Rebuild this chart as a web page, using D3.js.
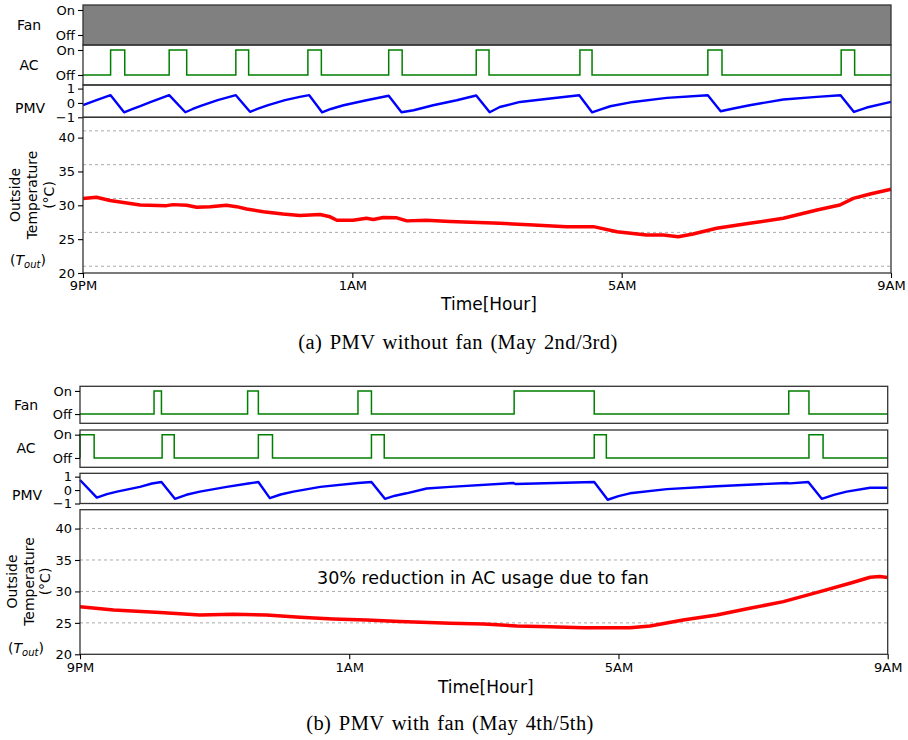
<!DOCTYPE html>
<html>
<head>
<meta charset="utf-8">
<script src="https://cdn.jsdelivr.net/npm/d3@7"></script>
<style>
  body { margin: 0; background: #fff; }
  svg text { font-family: "DejaVu Sans", sans-serif; fill: #000; }
  svg text.caption { font-family: "Liberation Serif", "DejaVu Serif", serif; }
</style>
</head>
<body>
<svg id="chart" width="908" height="740"></svg>
<script>
// ---- shared axis values ----
const hourTicks = [0, 4, 8, 12];
const hourTickLabels = ["9PM", "1AM", "5AM", "9AM"];
const stateTicks = [0, 1];
const stateTickLabels = ["Off", "On"];
const pmvTicks = [-1, 0, 1];
const pmvTickLabels = ["\u22121", "0", "1"];
const tempTicks = [20, 25, 30, 35, 40];
const tempGridA = [21, 26, 31, 36, 41];
const tempGridB = [25, 30, 35, 40];

// ---- (a) May 2nd/3rd, no fan ----
const fanOnA = [0];
const fanOffA = [12];
const acOnA  = [0.41, 1.28, 2.27, 3.34, 4.54, 5.84, 7.38, 9.28, 11.26];
const acOffA = [0.62, 1.54, 2.46, 3.54, 4.74, 6.03, 7.56, 9.49, 11.46];
const pmvHoursA = [0.00, 0.20, 0.41, 0.61, 0.72, 0.85, 1.00, 1.28, 1.52, 1.63, 1.75, 2.00, 2.27, 2.48, 2.60, 2.75, 3.00, 3.22, 3.36,
  3.55, 3.68, 3.87, 4.21, 4.54, 4.73, 4.91, 5.20, 5.55, 5.84, 6.04, 6.19, 6.49, 6.94, 7.37, 7.56, 7.68, 7.83, 8.17,
  8.67, 9.28, 9.47, 9.66, 9.90, 10.40, 10.90, 11.25, 11.45, 11.64, 12.00];
const pmvValuesA = [-0.16, 0.19, 0.54, -0.65, -0.45, -0.22, 0.05, 0.54, -0.65, -0.42, -0.20, 0.20, 0.54, -0.62, -0.40, -0.15, 0.20, 0.42, 0.54,
  -0.65, -0.42, -0.16, 0.19, 0.50, -0.65, -0.51, -0.16, 0.19, 0.52, -0.65, -0.28, 0.07, 0.31, 0.54, -0.65, -0.46, -0.23, 0.07,
  0.35, 0.54, -0.58, -0.39, -0.16, 0.24, 0.42, 0.54, -0.63, -0.32, 0.07];
const tempHoursA = [0.00, 0.20, 0.40, 0.60, 0.85, 1.24, 1.34, 1.54, 1.69, 1.89, 2.13, 2.28, 2.43, 2.68, 2.97, 3.22,
  3.52, 3.67, 3.77, 4.01, 4.21, 4.31, 4.46, 4.66, 4.81, 5.10, 5.45, 6.19, 6.69, 7.18, 7.58, 7.93, 8.37, 8.62,
  8.84, 9.06, 9.41, 9.90, 10.40, 10.90, 11.24, 11.44, 11.69, 12.00];
const tempValuesA = [31.0, 31.2, 30.7, 30.4, 30.05, 29.95, 30.1, 30.0, 29.7, 29.8, 30.0, 29.8, 29.45, 29.05, 28.7, 28.5,
  28.65, 28.3, 27.8, 27.8, 28.1, 27.9, 28.2, 28.15, 27.7, 27.8, 27.6, 27.34, 27.1, 26.85, 26.85, 26.1, 25.6, 25.6,
  25.36, 25.76, 26.6, 27.34, 28.08, 29.3, 30.05, 31.03, 31.67, 32.36];

// ---- (b) May 4th/5th, with fan ----
const fanOnB  = [1.10, 2.49, 4.13, 6.45, 10.53];
const fanOffB = [1.21, 2.65, 4.33, 7.64, 10.83];
const acOnB  = [0.00, 1.22, 2.65, 4.33, 7.64, 10.83];
const acOffB = [0.21, 1.40, 2.86, 4.52, 7.82, 11.04];
const pmvHoursB = [0.00, 0.25, 0.40, 0.55, 0.89, 1.07, 1.21, 1.41, 1.58, 1.78, 2.18, 2.50, 2.65, 2.82, 2.98, 3.17, 3.57, 4.13, 4.33,
  4.53, 4.68, 4.85, 5.15, 5.50, 6.44, 6.47, 7.64, 7.84, 8.00, 8.17, 8.72, 9.46, 10.50, 10.55, 10.82, 11.02, 11.20, 11.39, 11.74, 12.00];
const pmvValuesB = [0.75, -0.56, -0.30, -0.12, 0.24, 0.49, 0.60, -0.65, -0.35, -0.12, 0.24, 0.49, 0.60, -0.60, -0.33, -0.12, 0.24, 0.53, 0.60,
  -0.65, -0.42, -0.24, 0.12, 0.24, 0.53, 0.45, 0.60, -0.72, -0.45, -0.24, 0.07, 0.29, 0.53, 0.50, 0.60, -0.65, -0.36, -0.12, 0.17, 0.17];
const tempHoursB = [0.00, 0.50, 1.19, 1.78, 2.28, 2.77, 3.27, 3.76, 4.26, 4.75, 5.50, 6.00, 6.49, 6.98, 7.48, 8.17,
  8.47, 8.96, 9.46, 9.95, 10.45, 10.94, 11.44, 11.74, 11.88, 12.00];
const tempValuesB = [27.58, 27.05, 26.63, 26.26, 26.37, 26.26, 25.9, 25.63, 25.47, 25.2, 24.93, 24.83, 24.5, 24.4, 24.24, 24.24,
  24.5, 25.47, 26.26, 27.32, 28.38, 29.81, 31.3, 32.26, 32.36, 32.2];

const svg = d3.select("#chart");

// on/off intervals -> step points
function stepPoints(on, off) {
  const pts = [[0, 0]];
  on.forEach((t, i) => { pts.push([t, 1]); pts.push([off[i], 0]); });
  pts.push([12, 0]);
  return pts;
}

function frame(g, x, y0, y1) {
  g.append("rect")
    .attr("x", x.range()[0]).attr("y", y0)
    .attr("width", x.range()[1] - x.range()[0]).attr("height", y1 - y0)
    .attr("fill", "none").attr("stroke", "#333").attr("stroke-width", 1.3);
}

function yAxis(g, x, y, ticks, labels) {
  const ax = d3.axisLeft(y).tickValues(ticks).tickFormat((d, i) => labels[i]).tickSize(5).tickPadding(3);
  const a = g.append("g").attr("transform", `translate(${x.range()[0]},0)`).call(ax);
  a.select(".domain").remove();
  a.selectAll("line").attr("stroke", "#000").attr("stroke-width", 1.1);
  a.selectAll("text").attr("font-size", 13).attr("font-family", "DejaVu Sans");
}

function drawPanel(p) {
  const g = svg.append("g");
  const x = d3.scaleLinear().domain([0, 12]).range([p.left, p.right]);

  // --- Fan state ---
  const yFan = d3.scaleLinear().domain([-0.4, 1.2]).range([p.fan[1], p.fan[0]]);
  if (p.fanFill) {
    const area = d3.area().x(d => x(d[0])).y0(yFan(-0.4)).y1(yFan(1.2));
    p.fanOn.forEach((t, i) => {
      g.append("path").datum([[t], [p.fanOff[i]]]).attr("d", area).attr("fill", "#808080");
    });
  } else {
    g.append("path").datum(stepPoints(p.fanOn, p.fanOff))
      .attr("d", d3.line().x(d => x(d[0])).y(d => yFan(d[1])).curve(d3.curveStepAfter))
      .attr("fill", "none").attr("stroke", "#008000").attr("stroke-width", 1.5);
  }
  frame(g, x, p.fan[0], p.fan[1]);
  yAxis(g, x, yFan, stateTicks, stateTickLabels);

  // --- AC state ---
  const yAc = d3.scaleLinear().domain([-0.4, 1.2]).range([p.ac[1], p.ac[0]]);
  g.append("path").datum(stepPoints(p.acOn, p.acOff))
    .attr("d", d3.line().x(d => x(d[0])).y(d => yAc(d[1])).curve(d3.curveStepAfter))
    .attr("fill", "none").attr("stroke", "#008000").attr("stroke-width", 1.5);
  frame(g, x, p.ac[0], p.ac[1]);
  yAxis(g, x, yAc, stateTicks, stateTickLabels);

  // --- PMV ---
  const yPmv = d3.scaleLinear().domain([-1, 1.25]).range([p.pmv[1], p.pmv[0]]);
  g.append("path").datum(p.pmvHours.map((h, i) => [h, p.pmvValues[i]]))
    .attr("d", d3.line().x(d => x(d[0])).y(d => yPmv(d[1])))
    .attr("fill", "none").attr("stroke", "#0000ff").attr("stroke-width", 2.4)
    .attr("stroke-linejoin", "round");
  frame(g, x, p.pmv[0], p.pmv[1]);
  yAxis(g, x, yPmv, pmvTicks, pmvTickLabels);

  // --- Outside temperature ---
  const yT = d3.scaleLinear().domain([20, 43]).range([p.temp[1], p.temp[0]]);
  g.append("g").selectAll("line").data(p.grid).join("line")
    .attr("x1", x(0)).attr("x2", x(12)).attr("y1", d => yT(d)).attr("y2", d => yT(d))
    .attr("stroke", "#aaa").attr("stroke-width", 1).attr("stroke-dasharray", "3,3");
  g.append("path").datum(p.tempHours.map((h, i) => [h, p.tempValues[i]]))
    .attr("d", d3.line().x(d => x(d[0])).y(d => yT(d[1])))
    .attr("fill", "none").attr("stroke", "#ff0000").attr("stroke-width", 3.5)
    .attr("stroke-linejoin", "round");
  frame(g, x, p.temp[0], p.temp[1]);
  yAxis(g, x, yT, tempTicks, tempTicks.map(String));

  const xa = g.append("g").attr("transform", `translate(0,${p.temp[1]})`)
    .call(d3.axisBottom(x).tickValues(hourTicks).tickFormat((d, i) => hourTickLabels[i]).tickSize(5).tickPadding(3));
  xa.select(".domain").remove();
  xa.selectAll("line").attr("stroke", "#000").attr("stroke-width", 1.1);
  xa.selectAll("text").attr("font-size", 13).attr("font-family", "DejaVu Sans");

  // --- labels ---
  const lab = (txt, cx, by, size) => g.append("text").attr("x", cx).attr("y", by)
    .attr("text-anchor", "middle").attr("font-size", size).text(txt);
  lab("Fan", p.labX, p.fanLabY, 14);
  lab("AC", p.labX, p.acLabY, 14);
  lab("PMV", p.labX + 1, p.pmvLabY, 14);

  const rot = (txt, cx, cy) => g.append("text")
    .attr("transform", `translate(${cx},${cy}) rotate(-90)`).attr("dy", "0.35em")
    .attr("text-anchor", "middle").attr("font-size", 14).text(txt);
  rot("Outside", p.tLabX[0], p.tLabY);
  rot("Temperature", p.tLabX[1], p.tLabY);
  rot("(\u00b0C)", p.tLabX[2], p.tLabY);

  const tout = g.append("text").attr("x", p.toutX).attr("y", p.toutY)
    .attr("text-anchor", "middle").attr("font-size", 14);
  tout.append("tspan").text("(");
  tout.append("tspan").attr("font-style", "italic").text("T");
  tout.append("tspan").attr("font-style", "italic").attr("font-size", 10).attr("dy", 3).text("out");
  tout.append("tspan").attr("dy", -3).text(")");

  lab("Time[Hour]", (p.left + p.right) / 2 + 2, p.timeY, 17);

  g.append("text").attr("class", "caption").attr("x", p.capX).attr("y", p.capY)
    .attr("text-anchor", "middle").attr("font-size", 20.5).attr("letter-spacing", 0.4)
    .attr("word-spacing", 2).text(p.caption);

  if (p.note) {
    g.append("text").attr("x", p.note.x).attr("y", p.note.y).attr("text-anchor", "middle")
      .attr("font-size", 17.5).text(p.note.text);
  }
}

drawPanel({
  left: 83, right: 891,
  fan: [5, 45], ac: [45, 85], pmv: [85, 117.3], temp: [117.3, 273],
  fanFill: true, fanOn: fanOnA, fanOff: fanOffA,
  acOn: acOnA, acOff: acOffA,
  pmvHours: pmvHoursA, pmvValues: pmvValuesA,
  tempHours: tempHoursA, tempValues: tempValuesA, grid: tempGridA,
  labX: 29, fanLabY: 29.5, acLabY: 69.5, pmvLabY: 112.5,
  tLabX: [15, 32.5, 49], tLabY: 195, toutX: 28, toutY: 265,
  timeY: 310, capX: 458, capY: 349,
  caption: "(a)  PMV without fan (May 2nd/3rd)"
});

drawPanel({
  left: 80, right: 887.7,
  fan: [386.3, 423.3], ac: [430, 467.3], pmv: [473.3, 503.5], temp: [509.7, 654.3],
  fanFill: false, fanOn: fanOnB, fanOff: fanOffB,
  acOn: acOnB, acOff: acOffB,
  pmvHours: pmvHoursB, pmvValues: pmvValuesB,
  tempHours: tempHoursB, tempValues: tempValuesB, grid: tempGridB,
  labX: 26, fanLabY: 409.5, acLabY: 452.7, pmvLabY: 500,
  tLabX: [12, 29, 45.5], tLabY: 581.5, toutX: 26, toutY: 652.7,
  timeY: 692.7, capX: 450, capY: 730,
  caption: "(b)  PMV with fan (May 4th/5th)",
  note: { text: "30% reduction in AC usage due to fan", x: 483, y: 584 }
});
</script>
</body>
</html>
